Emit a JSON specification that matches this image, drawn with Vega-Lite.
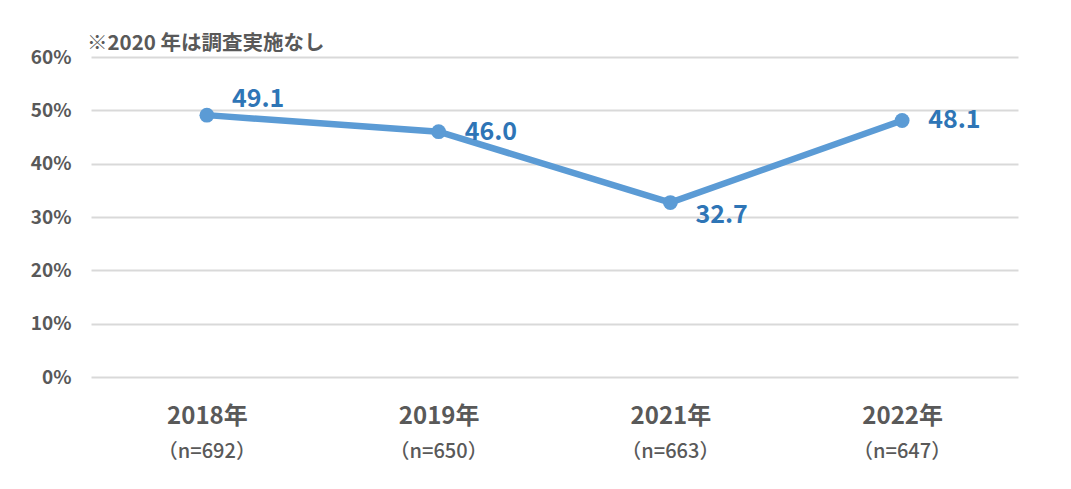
{
  "$schema": "https://vega.github.io/schema/vega-lite/v6.json",
  "autosize": {"type": "none"},
  "width": 927,
  "height": 320,
  "padding": {"left": 91, "top": 57, "right": 53, "bottom": 112},
  "background": "white",
  "title": {
    "text": "※2020 年は調査実施なし",
    "anchor": "start",
    "frame": "group",
    "offset": -6,
    "dx": -4,
    "font": "Noto Sans CJK JP",
    "fontSize": 20.5,
    "fontWeight": "bold",
    "color": "#595959"
  },
  "config": {
    "view": {"stroke": null},
    "font": "Noto Sans CJK JP"
  },
  "data": {
    "values": [
      {"year": "2018年", "n": "（n=692）", "value": 49.1, "pos": "above"},
      {"year": "2019年", "n": "（n=650）", "value": 46.0, "pos": "right"},
      {"year": "2021年", "n": "（n=663）", "value": 32.7, "pos": "below"},
      {"year": "2022年", "n": "（n=647）", "value": 48.1, "pos": "right"}
    ]
  },
  "encoding": {
    "x": {
      "field": "year",
      "type": "nominal",
      "sort": null,
      "scale": {"paddingInner": 0, "paddingOuter": 0},
      "axis": {
        "title": null,
        "labelAngle": 0,
        "domain": false,
        "ticks": false,
        "labelFontSize": 24,
        "labelFontWeight": "bold",
        "labelColor": "#595959",
        "labelPadding": 27,
        "labelFont": "Noto Sans CJK JP"
      }
    }
  },
  "layer": [
    {
      "mark": {"type": "line", "color": "#5B9BD5", "strokeWidth": 6.5},
      "encoding": {
        "y": {
          "field": "value",
          "type": "quantitative",
          "scale": {"domain": [0, 60], "nice": false},
          "axis": {
            "title": null,
            "values": [0, 10, 20, 30, 40, 50, 60],
            "labelExpr": "datum.value + '%'",
            "domain": false,
            "ticks": false,
            "labelFontSize": 19,
            "labelFontWeight": "bold",
            "labelColor": "#595959",
            "labelPadding": 20,
            "labelFont": "Noto Sans CJK JP",
            "gridColor": "#D9D9D9",
            "gridWidth": 2
          }
        }
      }
    },
    {
      "mark": {"type": "point", "filled": true, "opacity": 1, "size": 220, "color": "#5B9BD5"},
      "encoding": {"y": {"field": "value", "type": "quantitative"}}
    },
    {
      "transform": [{"filter": "datum.pos == 'above'"}],
      "mark": {"type": "text", "align": "left", "baseline": "middle", "dx": 25, "dy": -16, "fontSize": 25, "fontWeight": "bold", "color": "#2E75B6"},
      "encoding": {"y": {"field": "value", "type": "quantitative"}, "text": {"field": "value", "type": "quantitative", "format": ".1f"}}
    },
    {
      "transform": [{"filter": "datum.pos == 'right'"}],
      "mark": {"type": "text", "align": "left", "baseline": "middle", "dx": 26, "dy": 0, "fontSize": 25, "fontWeight": "bold", "color": "#2E75B6"},
      "encoding": {"y": {"field": "value", "type": "quantitative"}, "text": {"field": "value", "type": "quantitative", "format": ".1f"}}
    },
    {
      "transform": [{"filter": "datum.pos == 'below'"}],
      "mark": {"type": "text", "align": "left", "baseline": "middle", "dx": 25, "dy": 12, "fontSize": 25, "fontWeight": "bold", "color": "#2E75B6"},
      "encoding": {"y": {"field": "value", "type": "quantitative"}, "text": {"field": "value", "type": "quantitative", "format": ".1f"}}
    },
    {
      "mark": {"type": "text", "align": "center", "baseline": "middle", "dy": 75, "fontSize": 20, "fontWeight": 500, "color": "#595959"},
      "encoding": {"y": {"datum": 0, "type": "quantitative"}, "text": {"field": "n", "type": "nominal"}}
    }
  ]
}
